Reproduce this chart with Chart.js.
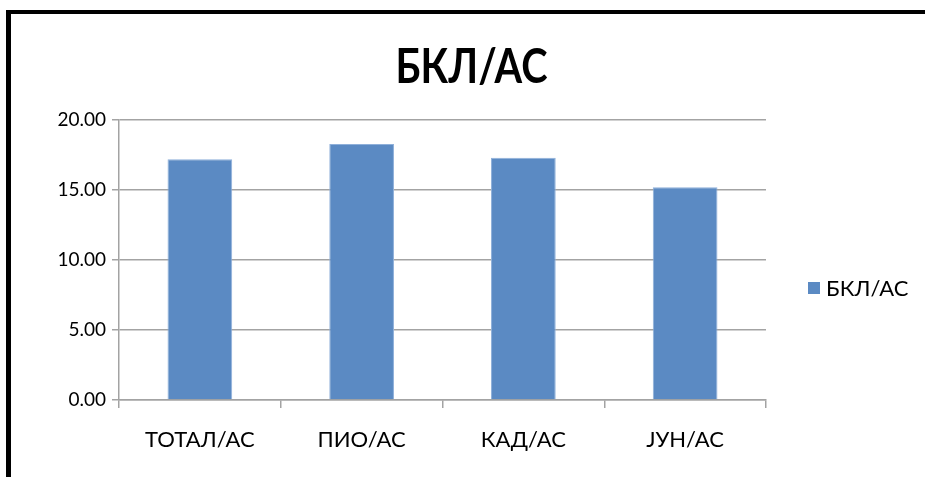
<!DOCTYPE html>
<html>
<head>
<meta charset="utf-8">
<script src="https://cdn.jsdelivr.net/npm/chart.js@4.4.1/dist/chart.umd.min.js"></script>
<style>
  html, body { margin: 0; padding: 0; background: #fff; }
  #wrap { position: relative; width: 925px; height: 477px; overflow: hidden; }
  #frame { position: absolute; left: 6px; top: 10px; width: 1000px; height: 600px;
           border-left: 5px solid #000; border-top: 4px solid #000; box-sizing: border-box; }
  #box { position: absolute; left: 0; top: 0; width: 925px; height: 477px; }
</style>
</head>
<body>
<div id="wrap">
  <div id="frame"></div>
  <div id="box"><canvas id="c"></canvas></div>
</div>
<script>
const TITLE = 'БКЛ/АС';
const SERIES_NAME = 'БКЛ/АС';
const categories = ['ТОТАЛ/АС', 'ПИО/АС', 'КАД/АС', 'ЈУН/АС'];
const values = [17.19, 18.28, 17.31, 15.19];
const yTicks = [0, 5, 10, 15, 20];

const FONT = 'Lato, Carlito, Calibri, sans-serif';
const GRID = '#a3a3a3';

// Title centred over the whole chart object, legend on the right side
const sideText = {
  id: 'sideText',
  afterDraw(chart) {
    const ctx = chart.ctx;
    const area = chart.chartArea;
    ctx.save();
    ctx.fillStyle = '#000';
    ctx.textBaseline = 'alphabetic';
    ctx.textAlign = 'center';
    ctx.font = 'bold 48px ' + FONT;
    ctx.save();
    ctx.translate(471.5, 83);
    ctx.scale(0.83, 1);
    ctx.fillText(TITLE, 0, 0);
    ctx.restore();

    const ds = chart.data.datasets[0];
    const lx = area.right + 42;
    const ly = (area.top + area.bottom) / 2 + 28;
    ctx.fillStyle = ds.backgroundColor;
    ctx.fillRect(lx, ly - 6, 12, 12);
    ctx.fillStyle = '#000';
    ctx.textAlign = 'left';
    ctx.textBaseline = 'middle';
    ctx.font = '22px ' + FONT;
    ctx.fillText(ds.label, lx + 18, ly + 1);
    ctx.restore();
  }
};

new Chart(document.getElementById('c'), {
  type: 'bar',
  data: {
    labels: categories,
    datasets: [{
      label: SERIES_NAME,
      data: values,
      backgroundColor: '#5b8ac3',
      borderColor: '#8fb0da',
      borderWidth: 1,
      borderSkipped: 'bottom',
      categoryPercentage: 1.0,
      barPercentage: 0.4
    }]
  },
  options: {
    responsive: true,
    maintainAspectRatio: false,
    animation: false,
    layout: { padding: { left: 18, right: 159, top: 120, bottom: 0 } },
    plugins: {
      legend: { display: false },
      title: { display: false },
      tooltip: { enabled: false }
    },
    scales: {
      x: {
        offset: true,
        grid: { offset: true, drawOnChartArea: false, drawTicks: true, tickLength: 8, color: GRID, lineWidth: 1.5 },
        border: { color: GRID, width: 1.5 },
        ticks: { color: '#000', font: { family: FONT, size: 22 }, padding: 19, maxRotation: 0 },
        afterFit(scale) { scale.height = 77; }
      },
      y: {
        min: 0,
        max: 20,
        afterBuildTicks(scale) { scale.ticks = yTicks.map(v => ({ value: v })); },
        grid: { color: GRID, lineWidth: 1.5, tickLength: 7 },
        border: { color: GRID, width: 1.5 },
        ticks: {
          color: '#000',
          font: { family: FONT, size: 19 },
          padding: 6,
          callback: v => Number(v).toFixed(2)
        },
        afterFit(scale) { scale.width = 101; }
      }
    }
  },
  plugins: [sideText]
});
</script>
</body>
</html>
